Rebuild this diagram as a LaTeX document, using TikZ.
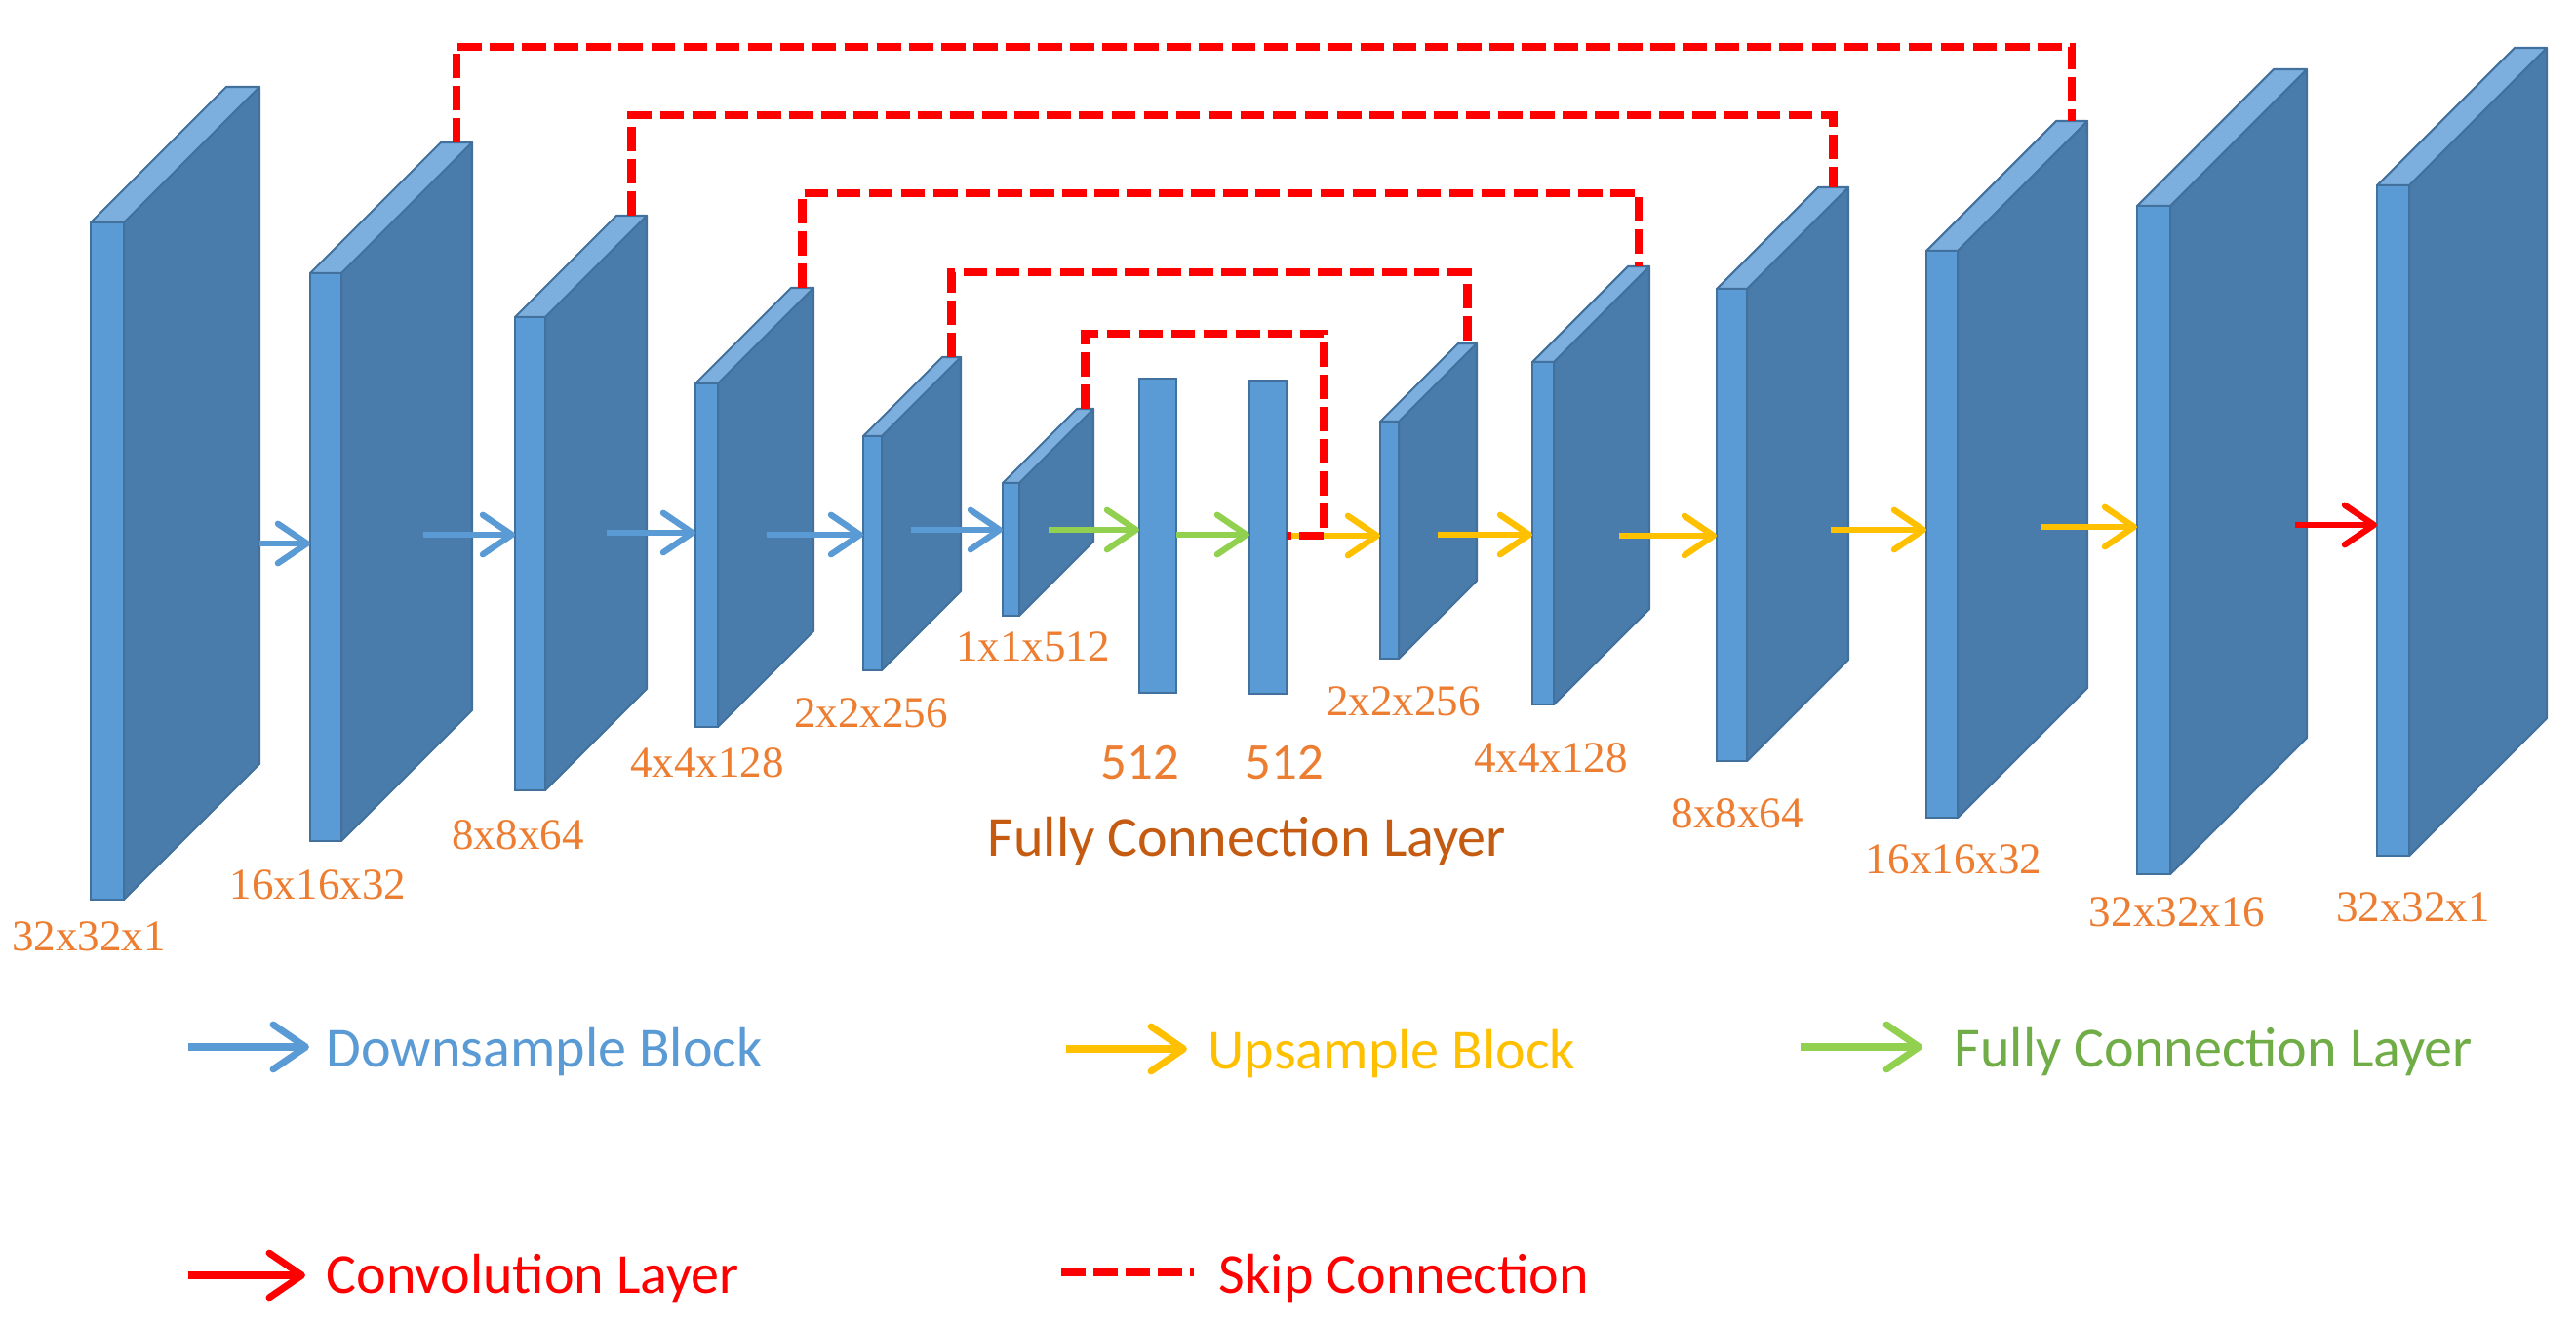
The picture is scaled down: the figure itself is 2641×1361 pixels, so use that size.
\documentclass[tikz,border=0pt]{standalone}
\usepackage{fontspec}
\setmainfont{Liberation Serif}
\newfontfamily\timesl{Liberation Serif}
\newfontfamily\calib{Carlito}
\usetikzlibrary{arrows.meta}
\definecolor{frontc}{HTML}{5B9BD5}
\definecolor{sidec}{HTML}{497CAB}
\definecolor{topc}{HTML}{7CAFDE}
\definecolor{edgec}{HTML}{41719C}
\definecolor{lblc}{HTML}{ED7D31}
\definecolor{fcc}{HTML}{C55A11}
\definecolor{downc}{HTML}{5B9BD5}
\definecolor{upc}{HTML}{FFC000}
\definecolor{fcarrow}{HTML}{92D050}
\definecolor{fctext}{HTML}{70AD47}
\definecolor{convc}{HTML}{FF0000}
\definecolor{skipc}{HTML}{FF0000}
\tikzset{
  sideface/.style={fill=sidec, draw=edgec, line width=0.6pt, line join=round},
  topface/.style={fill=topc, draw=edgec, line width=0.6pt, line join=round},
  frontface/.style={rectangle, fill=frontc, draw=edgec, line width=0.6pt, inner sep=0pt, outer sep=0pt},
  flow/.style={line width=1.8pt, -{Straight Barb[round,length=8.5pt,width=11.5pt]}},
  downarrow/.style={flow, draw=downc},
  uparrow/.style={flow, draw=upc},
  fcflow/.style={flow, draw=fcarrow},
  convarrow/.style={flow, draw=convc},
  legarrow/.style={line width=2pt, -{Straight Barb[round,length=9.5pt,width=13pt]}},
  skipline/.style={draw=skipc, line width=2.3pt, dash pattern=on 7pt off 2.4pt},
  dimlabel/.style={text=lblc, font=\timesl\fontsize{12.8}{15}\selectfont, anchor=base, inner sep=0pt},
  fclabel/.style={text=lblc, font=\calib\fontsize{15}{18}\selectfont, anchor=base west, inner sep=0pt},
  legtext/.style={font=\calib\fontsize{16.5}{19}\selectfont, anchor=base west, inner sep=0pt},
}
% name, x-left, x-right, y-top, y-bottom, depth
\newcommand{\slab}[6]{%
  \filldraw[sideface] (#3,#4) -- ++(#6,-#6) -- ++(0,{#5-#4}) -- (#3,#5) -- cycle;
  \filldraw[topface] (#2,#4) -- ++(#6,-#6) -- ++({#3-#2},0) -- (#3,#4) -- cycle;
  \node[frontface, minimum width={(#3-#2)*0.01cm}, minimum height={(#5-#4)*0.01cm}] (#1) at ({(#2+#3)/2},{(#4+#5)/2}) {};
  \coordinate (#1-back) at ({(#2+#3)/2+#6},{#4-#6});
}
\begin{document}
\begin{tikzpicture}[x=0.01cm,y=-0.01cm]
\fill[white] (0,0) rectangle (2641,1361);
\useasboundingbox (0,0) rectangle (2641,1361);

% layers
\slab{b1}{93}{127}{228}{922}{139}
\slab{b2}{318}{350}{280}{862}{134}
\slab{b3}{528}{559}{325}{810}{104}
\slab{b4}{713}{736}{393}{745}{98}
\slab{b5}{885}{904}{447}{687}{81}
\slab{b6}{1028}{1045}{495}{631}{76}
\node[frontface, minimum width=0.38cm, minimum height=3.22cm] (fc1) at (1187,549) {};
\node[frontface, minimum width=0.38cm, minimum height=3.21cm] (fc2) at (1300,550.5) {};
\slab{b7}{1415}{1434}{432}{675}{80}
\slab{b8}{1571}{1593}{371}{722}{98}
\slab{b9}{1760}{1791}{296}{780}{104}
\slab{b10}{1975}{2007}{257}{838}{133}
\slab{b11}{2191}{2225}{211}{896}{140}
\slab{b12}{2437}{2470}{190}{877}{141}

% labels
\node[dimlabel] (l1) at (91,974) {32x32x1};
\node[dimlabel] (l2) at (326,921) {16x16x32};
\node[dimlabel] (l3) at (531,870) {8x8x64};
\node[dimlabel] (l4) at (725,797) {4x4x128};
\node[dimlabel] (l5) at (893,746) {2x2x256};
\node[dimlabel] (l6) at (1059,678) {1x1x512};
\node[fclabel] (l7) at (1128,798) {512};
\node[fclabel] (l8) at (1276,798) {512};
\node[text=fcc, font=\calib\fontsize{16.5}{20}\selectfont, anchor=base west, inner sep=0pt] (fcl) at (1012,877) {Fully Connection Layer};
\node[dimlabel] (l9) at (1439,734) {2x2x256};
\node[dimlabel] (l10) at (1590,791) {4x4x128};
\node[dimlabel] (l11) at (1781,849) {8x8x64};
\node[dimlabel] (l12) at (2003,896) {16x16x32};
\node[dimlabel] (l13) at (2232,949) {32x32x16};
\node[dimlabel] (l14) at (2474,944) {32x32x1};

% downsample arrows
\coordinate (d1) at (266,557);  \draw[downarrow] (d1) -- (b2.west |- d1);
\coordinate (d2) at (434,548);  \draw[downarrow] (d2) -- (b3.west |- d2);
\coordinate (d3) at (622,546);  \draw[downarrow] (d3) -- (b4.west |- d3);
\coordinate (d4) at (786,548);  \draw[downarrow] (d4) -- (b5.west |- d4);
\coordinate (d5) at (934,543);  \draw[downarrow] (d5) -- (b6.west |- d5);
% fully connected arrows
\coordinate (f1) at (1075,543); \draw[fcflow] (f1) -- (fc1.west |- f1);
\coordinate (f2) at (1206,548); \draw[fcflow] (fc1.east |- f2) -- (fc2.west |- f2);
% upsample arrows
\coordinate (u1) at (1319,549); \draw[uparrow] (fc2.east |- u1) -- (b7.west |- u1);
\coordinate (u2) at (1474,548); \draw[uparrow] (u2) -- (b8.west |- u2);
\coordinate (u3) at (1660,549); \draw[uparrow] (u3) -- (b9.west |- u3);
\coordinate (u4) at (1877,543); \draw[uparrow] (u4) -- (b10.west |- u4);
\coordinate (u5) at (2093,540); \draw[uparrow] (u5) -- (b11.west |- u5);
% convolution arrow
\coordinate (c1) at (2353,538); \draw[convarrow] (c1) -- (b12.west |- c1);

% skip connections
\coordinate (lv1) at (0,48);
\coordinate (lv2) at (0,118);
\coordinate (lv3) at (0,198);
\coordinate (lv4) at (0,279);
\coordinate (lv5) at (0,342);
\coordinate (s5c) at (1357,549);
\draw[skipline] (b2-back) -- (b2-back |- lv1) -| (b10-back);
\draw[skipline] (b3-back) -- (b3-back |- lv2) -| (b9-back);
\draw[skipline] (b4-back) -- (b4-back |- lv3) -| (b8-back);
\draw[skipline] (b5-back) -- (b5-back |- lv4) -| (b7-back);
\draw[skipline] (b6-back) -- (b6-back |- lv5) -| (s5c) -- (fc2.east |- s5c);

% legend
\coordinate (g1a) at (193,1073); \coordinate (g1b) at (317,1073);
\draw[legarrow, draw=downc] (g1a) -- (g1b);
\node[legtext, text=downc] (g1t) at (334,1093) {Downsample Block};
\coordinate (g2a) at (1093,1075); \coordinate (g2b) at (1217,1075);
\draw[legarrow, draw=upc] (g2a) -- (g2b);
\node[legtext, text=upc] (g2t) at (1238,1095) {Upsample Block};
\coordinate (g3a) at (1846,1073); \coordinate (g3b) at (1971,1073);
\draw[legarrow, draw=fcarrow] (g3a) -- (g3b);
\node[legtext, text=fctext] (g3t) at (2003,1093) {Fully Connection Layer};
\coordinate (g4a) at (193,1307); \coordinate (g4b) at (313,1307);
\draw[legarrow, draw=convc] (g4a) -- (g4b);
\node[legtext, text=convc] (g4t) at (334,1325) {Convolution Layer};
\coordinate (g5a) at (1088,1304); \coordinate (g5b) at (1224,1304);
\draw[skipline] (g5a) -- (g5b);
\node[legtext, text=convc] (g5t) at (1249,1325) {Skip Connection};
\end{tikzpicture}
\end{document}
